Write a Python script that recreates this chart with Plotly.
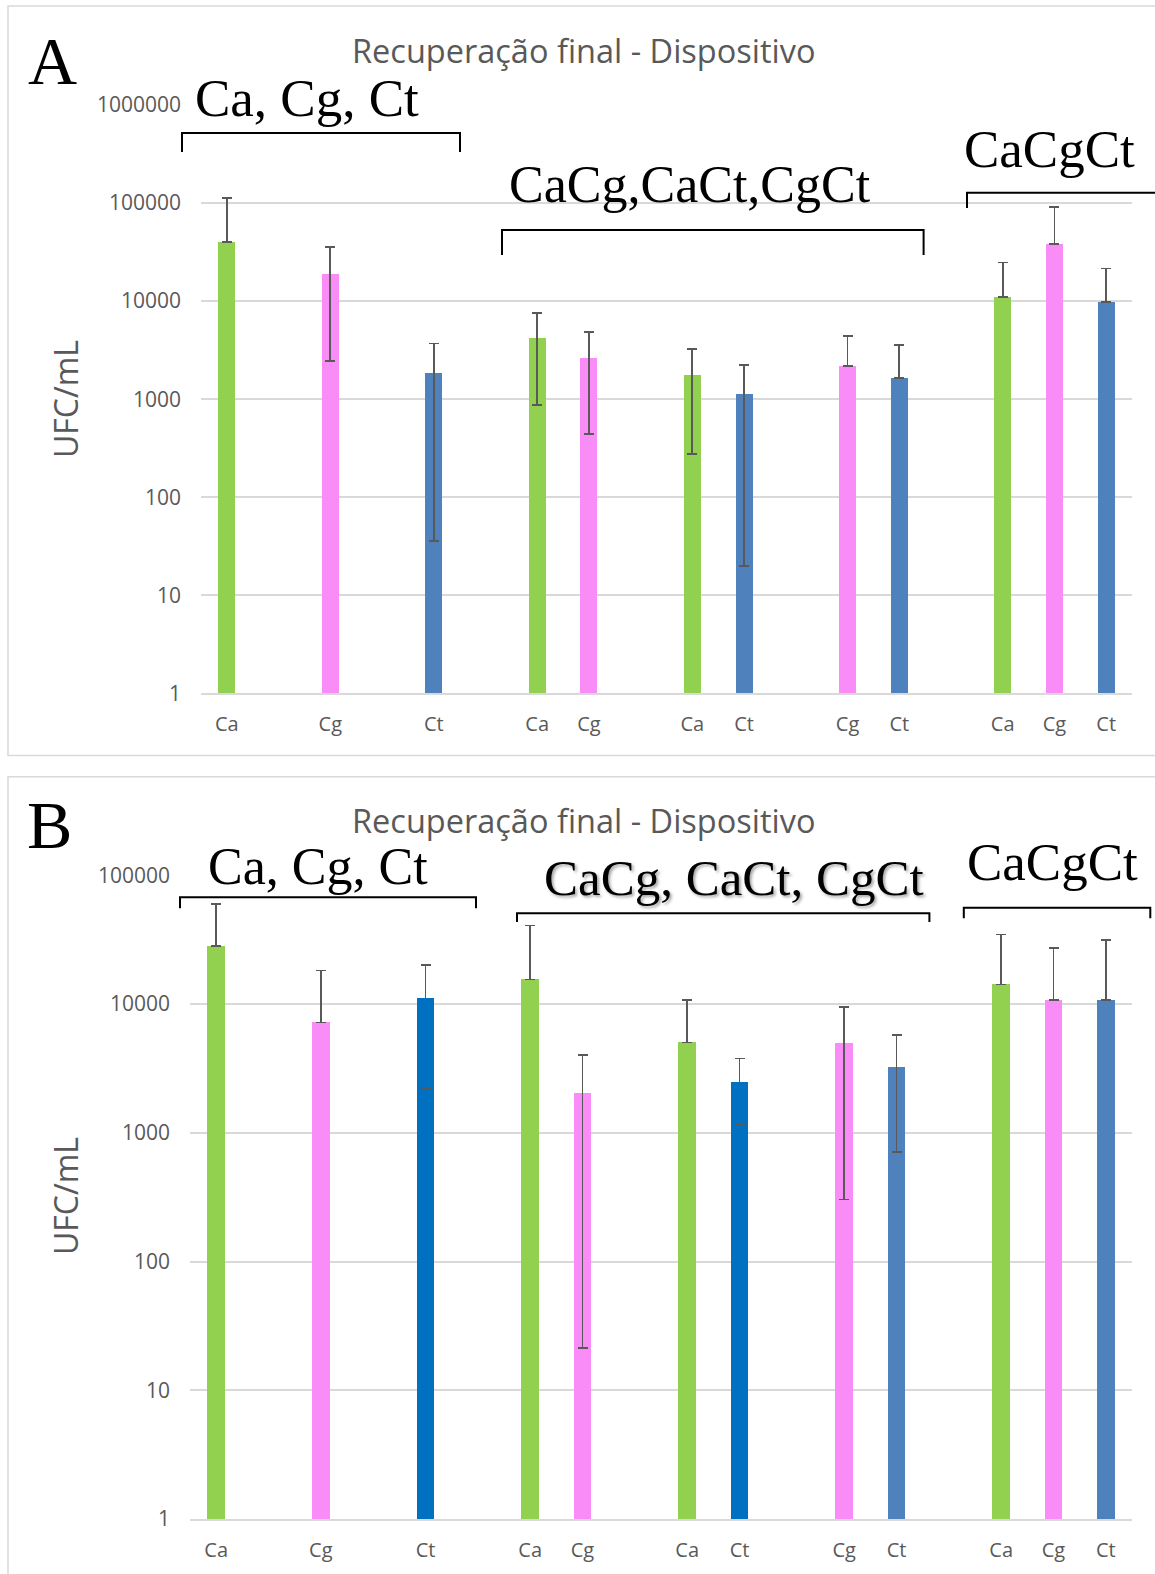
import plotly.graph_objects as go

W, H = 1155, 1574

# ---------------- data ----------------
positions = [0, 2, 4, 6, 7, 9, 10, 12, 13, 15, 16, 17]
species = ["Ca", "Cg", "Ct", "Ca", "Cg", "Ca", "Ct", "Cg", "Ct", "Ca", "Cg", "Ct"]

# Panel A
a_mean = [40000, 19000, 1850, 4200, 2600, 1770, 1130, 2170, 1640, 11000, 38000, 9800]
a_upper = [113000, 35600, 3700, 7600, 4850, 3250, 2220, 4430, 3560, 24800, 92000, 21500]
a_lower = [None, 2450, 36, 875, 443, 275, 20, None, None, None, None, None]

# Panel B
b_mean = [28100, 7180, 11000, 15500, 2030, 5020, 2460, 4930, 3210, 14200, 10700, 10700]
b_upper = [59600, 18200, 20100, 40700, 4030, 10800, 3770, 9500, 5730, 34700, 27400, 31300]
b_lower = [None, None, 2230, None, 21.4, None, 1150, 303, 707, None, None, None]

GREEN, PINK, BLUE, DBLUE = "#92D050", "#F98CF7", "#4F81BD", "#0070C0"
a_colors = [GREEN, PINK, BLUE, GREEN, PINK, GREEN, BLUE, PINK, BLUE, GREEN, PINK, BLUE]
b_colors = [GREEN, PINK, DBLUE, GREEN, PINK, GREEN, DBLUE, PINK, BLUE, GREEN, PINK, BLUE]

a_ticks = [1, 10, 100, 1000, 10000, 100000, 1000000]
b_ticks = [1, 10, 100, 1000, 10000, 100000]

title_text = "Recuperação final - Dispositivo"
ytitle = "UFC/mL"
groups_a = ["Ca, Cg, Ct", "CaCg,CaCt,CgCt", "CaCgCt"]
groups_b = ["Ca, Cg, Ct", "CaCg, CaCt, CgCt", "CaCgCt"]


def X(px):
    return px / W


def Y(py):
    return 1 - py / H


def err(mean, upper, lower):
    plus = [u - m for u, m in zip(upper, mean)]
    minus = [(m - l) if l is not None else 0 for m, l in zip(mean, lower)]
    return dict(type="data", symmetric=False, array=plus, arrayminus=minus,
                color="#595959", thickness=1.8, width=5)


fig = go.Figure()
fig.add_trace(go.Bar(x=positions, y=a_mean, marker=dict(color=a_colors, line=dict(width=0)),
                     width=0.33, error_y=err(a_mean, a_upper, a_lower),
                     xaxis="x", yaxis="y", showlegend=False))
fig.add_trace(go.Bar(x=positions, y=b_mean, marker=dict(color=b_colors, line=dict(width=0)),
                     width=0.34, error_y=err(b_mean, b_upper, b_lower),
                     xaxis="x2", yaxis="y2", showlegend=False))

tickfont = dict(family="Open Sans", size=21, color="#595959")
xfont = dict(family="Open Sans", size=20, color="#595959")

common_x = dict(range=[-0.5, 17.5], tickmode="array", tickvals=positions, ticktext=species,
                tickfont=xfont, showgrid=False, zeroline=False, showline=True,
                linecolor="#D9D9D9", linewidth=1.5, ticks="", ticklabelstandoff=12,
                fixedrange=True, automargin=False)
common_y = dict(type="log", tickmode="array", showgrid=True, gridcolor="#D9D9D9",
                gridwidth=1.5, zeroline=False, showline=False, ticks="",
                tickfont=tickfont, ticklabelstandoff=19, fixedrange=True, automargin=False)

fig.update_layout(
    width=W, height=H, margin=dict(l=0, r=0, t=0, b=0, pad=0, autoexpand=False),
    autosize=False, showlegend=False,
    paper_bgcolor="white", plot_bgcolor="white", bargap=0,
    xaxis=dict(domain=[X(201), X(1132)], anchor="y", **common_x),
    yaxis=dict(domain=[Y(693.3), Y(105)], anchor="x", range=[0, 6],
               tickvals=a_ticks, ticktext=[str(t) for t in a_ticks], **common_y),
    xaxis2=dict(domain=[X(190), X(1132)], anchor="y2", **common_x),
    yaxis2=dict(domain=[Y(1519), Y(875.3)], anchor="x2", range=[0, 5],
                tickvals=b_ticks, ticktext=[str(t) for t in b_ticks], **common_y),
)

shapes = []
# panel borders
shapes.append(dict(type="rect", xref="paper", yref="paper", x0=X(8), x1=X(1170),
                   y0=Y(755.5), y1=Y(6), line=dict(color="#D9D9D9", width=1.5)))
shapes.append(dict(type="rect", xref="paper", yref="paper", x0=X(8), x1=X(1170),
                   y0=Y(1590), y1=Y(776.7), line=dict(color="#D9D9D9", width=1.5)))


def bracket(x1, x2, yt, yb):
    path = f"M {X(x1)},{Y(yb)} L {X(x1)},{Y(yt)} L {X(x2)},{Y(yt)} L {X(x2)},{Y(yb)}"
    return dict(type="path", xref="paper", yref="paper", path=path,
                line=dict(color="black", width=2))


shapes += [
    bracket(182, 460, 133, 152),
    bracket(502, 923.6, 230, 255),
    bracket(967, 1200, 192.7, 208),
    bracket(180, 476, 897.3, 908.3),
    bracket(517, 929.4, 913.3, 922),
    bracket(963.8, 1150.3, 907.7, 918.3),
]
fig.update_layout(shapes=shapes)

serif = "Liberation Serif, Times New Roman, serif"
ann = []


def add_text(text, x, y, size, family, color, angle=0, shadow=None):
    font = dict(family=family, size=size, color=color)
    if shadow:
        font["shadow"] = shadow
    ann.append(dict(text=text, x=X(x), y=Y(y), xref="paper", yref="paper",
                    xanchor="center", yanchor="middle", showarrow=False,
                    textangle=angle, font=font))


# panel letters
add_text("A", 52.5, 60.5, 68, serif, "black")
add_text("B", 49.5, 825.4, 68, serif, "black")
# titles
add_text(title_text, 584.4, 50.5, 32.5, "Open Sans", "#595959")
add_text(title_text, 584.4, 820.5, 32.5, "Open Sans", "#595959")
# y titles
add_text(ytitle, 65, 399, 32, "Open Sans", "#595959", angle=-90)
add_text(ytitle, 65, 1196, 32, "Open Sans", "#595959", angle=-90)
# group labels panel A
add_text(groups_a[0], 306.5, 98.3, 53, serif, "black")
add_text(groups_a[1], 690, 184, 52, serif, "black")
add_text(groups_a[2], 1049, 149, 53, serif, "black")
# group labels panel B
add_text(groups_b[0], 318, 866, 52, serif, "black")
add_text(groups_b[1], 733.8, 878.3, 51, serif, "black", shadow="2px 2px 3px rgba(0,0,0,0.35)")
add_text(groups_b[2], 1052.5, 862.5, 53, serif, "black")

fig.update_layout(annotations=ann)

page_fix = """
document.documentElement.style.margin='0';
document.body.style.margin='0';
"""

fig.write_html("out.html", post_script=page_fix, config={"displayModeBar": False})
